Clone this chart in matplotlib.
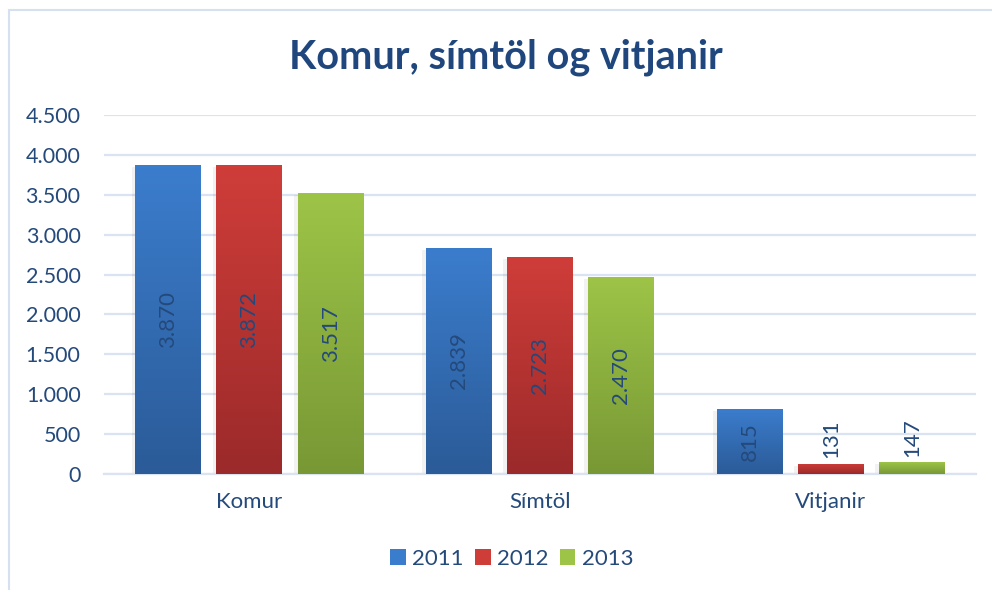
import numpy as np
import matplotlib
matplotlib.use("Agg")
import matplotlib.pyplot as plt
from matplotlib.patches import Rectangle
from matplotlib.colors import LinearSegmentedColormap
from matplotlib.ticker import FuncFormatter

categories = ["Komur", "Símtöl", "Vitjanir"]
years = ["2011", "2012", "2013"]
v2011 = [3870, 2839, 815]
v2012 = [3872, 2723, 131]
v2013 = [3517, 2470, 147]
series = [v2011, v2012, v2013]

colors_top = ["#3B7DCD", "#CF3D39", "#9DC447"]
colors_bot = ["#2B5B98", "#9B2A2A", "#789835"]
txt = "#24497B"

plt.rcParams["font.family"] = ["Lato", "DejaVu Sans"]


def fmt(v):
    return f"{v:,.0f}".replace(",", ".")


fig = plt.figure(figsize=(9.92, 5.9), dpi=100)
ax = fig.add_axes([0.105, 0.1966, 0.879, 0.6085])

# chart border (only left/top visible in the crop)
fig.patches.append(Rectangle((9 / 992, -0.1), 1.2, 1 - 10 / 590 + 0.1,
                             transform=fig.transFigure, fill=False,
                             edgecolor="#D5E1F1", lw=1.5, zorder=0))

x = np.arange(len(categories))
w = 0.227
step = 0.279

for i, vals in enumerate(series):
    pos = x + (i - 1) * step
    # soft shadow
    ax.bar(pos - 0.008, vals, w + 0.01, bottom=-25,
           color="#000000", alpha=0.05, zorder=1, linewidth=0)
    bars = ax.bar(pos, vals, w, color=colors_top[i], zorder=2,
                  linewidth=0, label=years[i])
    cmap = LinearSegmentedColormap.from_list("g", [colors_bot[i], colors_top[i]])
    for b, v in zip(bars, vals):
        x0, y0 = b.get_x(), b.get_y()
        im = ax.imshow(np.linspace(0, 1, 100).reshape(-1, 1), cmap=cmap,
                       origin="lower", aspect="auto",
                       extent=[x0, x0 + b.get_width(), y0, y0 + b.get_height()],
                       zorder=3)
        im.set_clip_path(b)
        cx = x0 + b.get_width() / 2
        if v > 400:
            ax.text(cx, v / 2, fmt(v), rotation=90, ha="center", va="center",
                    fontsize=16, color=txt, zorder=4)
        else:
            ax.text(cx, v + 70, fmt(v), rotation=90, ha="center", va="bottom",
                    fontsize=16, color=txt, zorder=4)

ax.set_xlim(-0.5, 2.5)
ax.set_ylim(0, 4500)
ax.set_yticks(np.arange(0, 4501, 500))
ax.yaxis.set_major_formatter(FuncFormatter(lambda v, p: fmt(v)))
ax.set_xticks(x)
ax.set_xticklabels(categories)
ax.tick_params(axis="y", length=0, labelsize=15.5, labelcolor=txt, pad=17)
ax.tick_params(axis="x", length=0, labelsize=16, labelcolor=txt, pad=13)
ax.grid(axis="y", color="#D9E3F1", lw=1.6, zorder=0)
ax.set_axisbelow(True)
for s in ["top", "right", "left"]:
    ax.spines[s].set_visible(False)
ax.spines["bottom"].set_color("#D9E3F1")
ax.spines["bottom"].set_linewidth(1.6)

fig.text(0.51, 0.903, "Komur, símtöl og vitjanir", ha="center", va="center",
         fontsize=28.5, fontweight="bold", color="#1F477D")

leg = fig.legend(loc="center", bbox_to_anchor=(0.516, 0.053), ncol=3,
                 frameon=False, fontsize=16, handlelength=0.7,
                 handleheight=0.7, handletextpad=0.3, columnspacing=0.5)
for t in leg.get_texts():
    t.set_color(txt)

fig.savefig("out.png", dpi=100)
